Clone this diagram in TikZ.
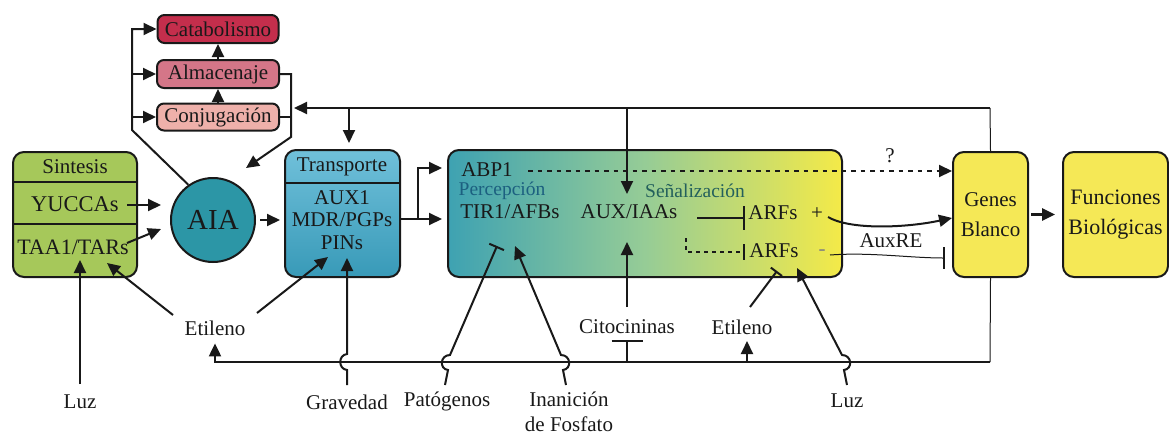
\documentclass[tikz,border=0pt]{standalone}
\usepackage{fontspec}
\setmainfont{Liberation Serif}
\newfontfamily\tms{Liberation Serif}
\usetikzlibrary{arrows.meta,calc}
\definecolor{ink}{RGB}{25,25,25}
\definecolor{cata}{RGB}{196,46,76}
\definecolor{alma}{RGB}{212,118,136}
\definecolor{conj}{RGB}{238,176,170}
\definecolor{sint}{RGB}{166,200,90}
\definecolor{aia}{RGB}{44,150,166}
\definecolor{transA}{RGB}{112,192,218}
\definecolor{transB}{RGB}{56,154,184}
\definecolor{bigL}{RGB}{62,162,178}
\definecolor{bigM}{RGB}{150,204,150}
\definecolor{bigR}{RGB}{244,234,72}
\definecolor{gene}{RGB}{245,232,86}
\definecolor{perc}{RGB}{28,96,128}
\definecolor{senal}{RGB}{36,96,92}
\begin{document}
\begin{tikzpicture}[x=1pt,y=-1pt,color=ink,line width=2pt,
  every node/.style={inner sep=0pt,font=\tms\fontsize{21}{23}\selectfont},
  box/.style={draw=ink,line width=2pt,rounded corners=11pt},
  arr/.style={-{Triangle[length=13pt,width=12pt]}},
  inh/.style={-{Bar[width=#1,line width=2pt]}},
  inh/.default=22pt,
  dots/.style={dash pattern=on 4.5pt off 5pt},
  thinln/.style={line width=1pt}]
\useasboundingbox (0,0) rectangle (1169,437);

% ---------- storage / metabolism boxes
\node[box,rounded corners=7pt,fill=cata,minimum width=121,minimum height=28] (cata) at (218,29) {Catabolismo};
\node[box,rounded corners=7pt,fill=alma,minimum width=122,minimum height=28] (alma) at (218,74) {Almacenaje};
\node[box,rounded corners=7pt,fill=conj,minimum width=122,minimum height=27] (conj) at (218,117) {Conjugación};

% ---------- Sintesis
\node[box,fill=sint,minimum width=124,minimum height=125] (sint) at (75,214.5) {};
\coordinate (sd1) at (0,182);
\coordinate (sd2) at (0,224);
\draw (sint.west |- sd1) -- (sint.east |- sd1);
\draw (sint.west |- sd2) -- (sint.east |- sd2);
\node (tsint) at (75,167) {Sintesis};
\node[font=\tms\fontsize{22.5}{24}\selectfont] (yuc) at (75,204) {YUCCAs};
\node[font=\tms\fontsize{22}{24}\selectfont] (taa) at (73,247) {TAA1/TARs};

% ---------- AIA
\node[circle,draw=ink,fill=aia,line width=2pt,minimum size=84,font=\tms\fontsize{29}{31}\selectfont] (aia) at (213,220) {AIA};

% ---------- Transporte
\node[box,top color=transA,bottom color=transB,minimum width=115,minimum height=127] (trans) at (342.5,213.5) {};
\coordinate (td) at (0,183);
\draw (trans.west |- td) -- (trans.east |- td);
\node (ttrans) at (342,167) {Transporte};
\node[align=center,font=\tms\fontsize{21}{22.5}\selectfont] (tlist) at (342,220) {AUX1\\MDR/PGPs\\PINs};

% ---------- big perception / signalling box
\node[box,left color=bigL,right color=bigR,middle color=bigM,minimum width=394,minimum height=127] (big) at (645,213.5) {};
\node (abp) at (487,170) {ABP1};
\node[text=perc,font=\tms\fontsize{19.5}{21}\selectfont] (perc) at (502,191) {Percepción};
\node[text=senal,font=\tms\fontsize{19.5}{21}\selectfont] (senal) at (695,191) {Señalización};
\node (tir) at (510,212) {TIR1/AFBs};
\node (auxiaa) at (629,212) {AUX/IAAs};
\node (arf1) at (773,213) {ARFs};
\node (plus) at (817,214) {+};
\node (arf2) at (774,251) {ARFs};
\node[text=ink!55] (minus) at (822,253) {-};

% ---------- Genes / Funciones
\node[box,fill=gene,minimum width=75,minimum height=125,align=center,font=\tms\fontsize{21}{30}\selectfont] (genes) at (990.5,214.5) {Genes\\Blanco};
\node[box,fill=gene,minimum width=105,minimum height=125,align=center,font=\tms\fontsize{22}{30}\selectfont] (func) at (1115.5,214.5) {Funciones\\Biológicas};

% ---------- labels
\node (q) at (890,156) {?};
\node (auxre) at (891,241) {AuxRE};
\node (eti1) at (215,328) {Etileno};
\node (luz1) at (80,402) {Luz};
\node (grav) at (347,402) {Gravedad};
\node (pato) at (447,401) {Patógenos};
\node[align=center,font=\tms\fontsize{21}{25}\selectfont] (inan) at (569,412) {Inanición\\de Fosfato};
\node (cito) at (627,327) {Citocininas};
\node (eti2) at (742,327) {Etileno};
\node (luz2) at (847,401) {Luz};

% ---------- coordinates
\coordinate (lt) at (132,130);
\coordinate (rv) at (291,137);
\coordinate (rtip) at (246,168);
\coordinate (topR) at (990,108);
\coordinate (topL) at (294,108);
\coordinate (tdown) at (349,108);
\coordinate (sdown) at (627,108);
\coordinate (stip) at (627,194);
\coordinate (tj) at (418,219);
\coordinate (tu) at (418,168);
\coordinate (bR) at (990,362);
\coordinate (bL) at (215,362);

% ---------- metabolism connectors
\draw[arr] (aia.125) -- (lt) -- (lt |- cata.west) -- (cata.west);
\draw[arr] (lt |- alma.west) -- (alma.west);
\draw[arr] (lt |- conj.west) -- (conj.west);
\draw[arr] (conj.north) -- (alma.south);
\draw[arr] (alma.north) -- (cata.south);
\draw[arr] (alma.east) -| (rv) -- (rtip);
\draw (conj.east) -- (conj.east -| rv);

% ---------- top feedback
\draw[thinln] (genes.north) -- (topR);
\draw[arr] (topR) -- (topL);
\draw[arr,shorten >=6pt] (tdown) -- (tdown |- trans.north);
\draw[arr] (sdown) -- (stip);

% ---------- synthesis -> AIA -> transport
\coordinate (y1) at (127,205);
\coordinate (y2) at (161,205);
\coordinate (t1) at (127,243);
\coordinate (t2) at (161,229);
\draw[arr] (y1) -- (y2);
\draw[arr] (t1) -- (t2);
\draw[arr,shorten <=4pt,shorten >=4pt] (aia.east) -- (trans.west |- aia.east);
\draw (trans.east |- tj) -- (tj);
\draw[arr,shorten >=5pt] (tj) -- (tj -| big.west);
\draw[arr,shorten >=5pt] (tj) -- (tu) -- (tu -| big.west);

% ---------- inside big box
\coordinate (d1) at (528,171);
\draw[arr,dots] (d1) -- (d1 -| genes.west);
\coordinate (i1) at (697,218);
\coordinate (i2) at (745,218);
\draw[inh=24pt] (i1) -- (i2);
\coordinate (j1) at (686,238);
\coordinate (j2) at (686,252);
\coordinate (j3) at (745,252);
\draw[dash pattern=on 4pt off 4pt,line width=1.6pt,-{Bar[width=16pt,line width=2pt]}] (j1) -- (j2) -- (j3);

% ---------- ARFs -> Genes
\coordinate (p1) at (828,217);
\coordinate (p2) at (952,218);
\draw[arr] (p1) .. controls (850,230) and (905,228) .. (p2);
\coordinate (m1) at (830,255);
\coordinate (m2) at (945,258);
\draw[thinln,inh=22pt] (m1) .. controls (870,252) and (910,258) .. (m2);
\draw[arr,line width=2.6pt,shorten <=2pt,shorten >=7pt] (genes.east) -- (func.west);

% ---------- bottom feedback
\draw[thinln] (genes.south) -- (bR);
\draw[arr,shorten >=7pt] (bR) -- (bL) -- (eti1.south);
\coordinate (c0) at (627,362);
\coordinate (c1) at (627,340);
\draw[-{Bar[width=31pt,line width=2pt]}] (c0) -- (c1);
\coordinate (e0) at (747,362);
\coordinate (e1) at (747,341);
\draw[arr] (e0) -- (e1);

% ---------- ethylene (left)
\coordinate (el1) at (173,315);
\coordinate (el2) at (107,263);
\coordinate (el3) at (257,313);
\coordinate (el4) at (328,257);
\draw[arr] (el1) -- (el2);
\draw[arr] (el3) -- (el4);

% ---------- Luz (left)
\coordinate (lz1) at (80,384);
\coordinate (lz2) at (80,260);
\draw[arr] (lz1) -- (lz2);

% ---------- Gravedad
\coordinate (gb) at (347,385);
\coordinate (gx) at (347,362);
\coordinate (gt) at (347,258);
\draw[arr] (gb) -- ($(gx)+(0,8)$) .. controls ($(gx)+(-9,7)$) and ($(gx)+(-9,-7)$) .. ($(gx)+(0,-8)$) -- (gt);

% ---------- Citocininas
\coordinate (ct1) at (627,307);
\coordinate (ct2) at (627,242);
\draw[arr] (ct1) -- (ct2);

% ---------- Patogenos
\coordinate (pb) at (445,385);
\coordinate (px) at (448,362);
\coordinate (pt) at (497,246);
\draw[inh=16pt] (pb) -- ($(px)+(0,8)$) .. controls ($(px)+(-9,7)$) and ($(px)+(-8,-7)$) .. ($(px)+(2,-7)$) -- (pt);

% ---------- Inanicion
\coordinate (nb) at (566,385);
\coordinate (nx) at (563,362);
\coordinate (nt) at (515,246);
\draw[arr] (nb) -- ($(nx)+(0,8)$) .. controls ($(nx)+(9,7)$) and ($(nx)+(8,-7)$) .. ($(nx)+(-2,-7)$) -- (nt);

% ---------- Etileno (right)
\coordinate (er1) at (750,307);
\coordinate (er2) at (777,271);
\draw[inh=14pt] (er1) -- (er2);

% ---------- Luz (right)
\coordinate (lb) at (847,385);
\coordinate (lx) at (844,362);
\coordinate (lt2) at (797,268);
\draw[arr] (lb) -- ($(lx)+(0,8)$) .. controls ($(lx)+(9,7)$) and ($(lx)+(8,-7)$) .. ($(lx)+(-2,-7)$) -- (lt2);
\end{tikzpicture}
\end{document}
